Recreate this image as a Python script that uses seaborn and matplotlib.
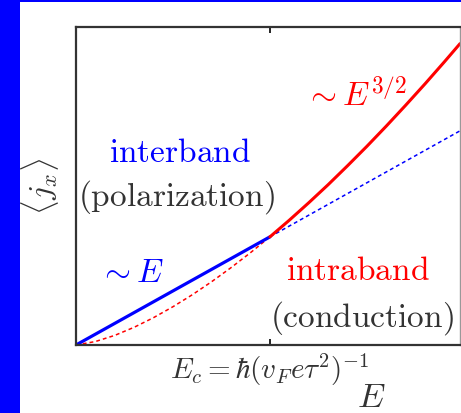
import matplotlib
matplotlib.use("Agg")
import matplotlib.pyplot as plt
from matplotlib.patches import Rectangle
import seaborn as sns

sns.set_theme(style="white")
plt.rcParams["mathtext.fontset"] = "cm"
plt.rcParams["font.family"] = ["DejaVu Serif"]

# Field in units of E_c, current in units of j(E_c)
E_lin = [0.0, 1.0]
j_lin = [0.0, 1.0]
E_lin_ext = [1.0, 1.98]
j_lin_ext = [1.0, 1.98]

E_pow_low = [0.0, 0.1, 0.2, 0.3, 0.4, 0.5, 0.6, 0.7, 0.8, 0.9, 1.0]
j_pow_low = [0.0, 0.032, 0.089, 0.164, 0.253, 0.354, 0.465, 0.586, 0.716, 0.854, 1.0]
E_pow_high = [1.0, 1.1, 1.2, 1.3, 1.4, 1.5, 1.6, 1.7, 1.8, 1.9, 1.98]
j_pow_high = [1.0, 1.154, 1.315, 1.482, 1.657, 1.837, 2.024, 2.217, 2.415, 2.619, 2.786]

tick_pos = [1.0]
tick_labels = [r"$E_c = \hbar(v_F e\tau^2)^{-1}$"]

BLUE = "#0000ff"
RED = "#ff0000"
DARK = "#333333"
FS = 24

fig = plt.figure(figsize=(4.61, 4.14), dpi=100)
fig.patch.set_facecolor("white")
fig.add_artist(Rectangle((0, 0), 20 / 461, 1, transform=fig.transFigure,
                         facecolor=BLUE, edgecolor="none", zorder=0))
fig.add_artist(Rectangle((0, 1 - 3 / 414), 1, 3 / 414, transform=fig.transFigure,
                         facecolor=BLUE, edgecolor="none", zorder=0))

ax = fig.add_axes([76 / 461, 68 / 414, 384 / 461, 318 / 414])
ax.set_facecolor("white")

sns.lineplot(x=E_pow_low, y=j_pow_low, ax=ax, color=RED, lw=1.1,
             linestyle=(0, (2.5, 2)), sort=False)
sns.lineplot(x=E_lin_ext, y=j_lin_ext, ax=ax, color=BLUE, lw=1.1,
             linestyle=(0, (2.5, 2)), sort=False)
sns.lineplot(x=E_lin, y=j_lin, ax=ax, color=BLUE, lw=2.3, sort=False)
sns.lineplot(x=E_pow_high, y=j_pow_high, ax=ax, color=RED, lw=2.2, sort=False)

ax.set_xlim(0, 1.98)
ax.set_ylim(0, 2.94)
ax.set_xticks(tick_pos)
ax.set_xticklabels(tick_labels, fontsize=21, color=DARK)
ax.set_yticks([])
ax.tick_params(axis="x", direction="in", length=4, width=1.2, color="black",
               top=True, bottom=True, pad=4)

for side in ["left", "bottom", "top"]:
    ax.spines[side].set_color(DARK)
    ax.spines[side].set_linewidth(1.6)
ax.spines["right"].set_color("#999999")
ax.spines["right"].set_linewidth(1.0)

ax.set_xlabel(r"$E$", fontsize=25, color=DARK, va="center")
ax.xaxis.set_label_coords(0.77, -0.16)
ax.set_ylabel(r"$\langle j_x\rangle$", fontsize=23, color=DARK, va="center")
ax.yaxis.set_label_coords(-0.094, 0.5)

ax.text(0.536, 1.787, r"$\mathrm{interband}$", color=BLUE, fontsize=FS,
        ha="center", va="center")
ax.text(0.516, 1.38, r"$\mathrm{(polarization)}$", color=DARK, fontsize=FS,
        ha="center", va="center")
ax.text(0.289, 0.676, r"$\sim E$", color=BLUE, fontsize=FS,
        ha="center", va="center")
ax.text(1.444, 2.315, r"$\sim E^{3/2}$", color=RED, fontsize=FS,
        ha="center", va="center")
ax.text(1.454, 0.694, r"$\mathrm{intraband}$", color=RED, fontsize=FS,
        ha="center", va="center")
ax.text(1.475, 0.259, r"$\mathrm{(conduction)}$", color=DARK, fontsize=FS,
        ha="center", va="center")

fig.savefig("out.png", dpi=100, facecolor=fig.get_facecolor())
